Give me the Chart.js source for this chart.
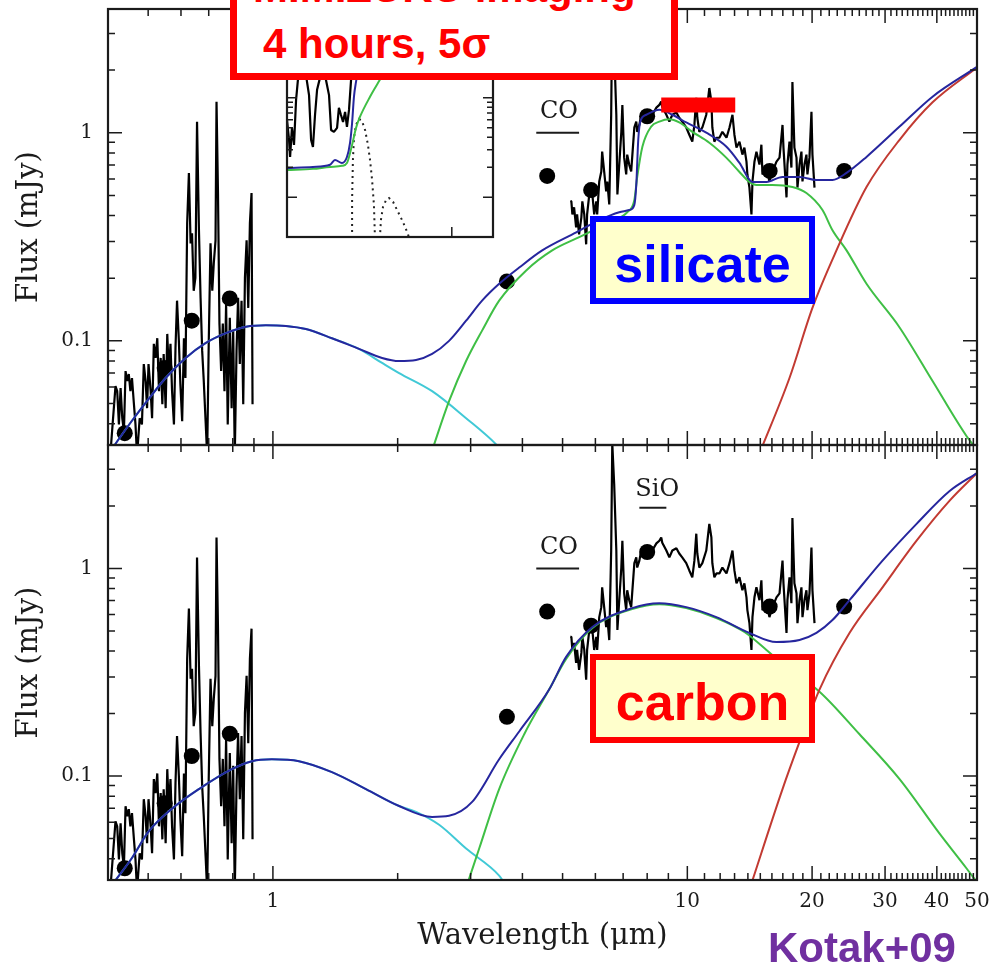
<!DOCTYPE html>
<html lang="en">
<head>
<meta charset="utf-8">
<title>SN 2004et SED fits</title>
<script src="https://cdn.jsdelivr.net/npm/chart.js@4.4.1/dist/chart.umd.min.js"></script>
<style>
  html, body { margin: 0; padding: 0; background: #fff; }
  #page { position: relative; width: 1000px; height: 966px; overflow: hidden; }
  #page canvas { position: absolute; }
  #cTop { left: 0; top: -18px; }
  #cBot { left: 0; top: 418px; }
  #cInset { left: 285px; top: -4px; }
  .box { position: absolute; box-sizing: border-box; }
  .note { position: absolute; font-family: "Liberation Sans", Arial, sans-serif; font-weight: bold; line-height: 1; white-space: pre; }
  #sensBox { left: 230px; top: -20px; width: 448px; height: 100px; border: 7px solid #ff0000; background: #fff; }
  #silBox { left: 590px; top: 216px; width: 225px; height: 88px; border: 6px solid #0000ff; background: #ffffcc; }
  #carBox { left: 590px; top: 654px; width: 225px; height: 89px; border: 6px solid #ff0000; background: #ffffcc; }
</style>
</head>
<body>
<div id="page">
  <canvas id="cTop" width="1000" height="490"></canvas>
  <canvas id="cBot" width="1000" height="548"></canvas>
  <canvas id="cInset" width="210" height="243"></canvas>
  <div class="box" id="sensBox"></div>
  <div class="note" style="left:253px; top:-33px; font-size:42px; color:#ff0000;">MIMIZUKU imaging</div>
  <div class="note" style="left:263px; top:23px; font-size:42px; color:#ff0000;">4 hours, 5σ</div>
  <div class="box" id="silBox"></div>
  <div class="note" style="left:590px; width:225px; text-align:center; top:238px; font-size:52px; color:#0000ff;">silicate</div>
  <div class="box" id="carBox"></div>
  <div class="note" style="left:590px; width:225px; text-align:center; top:676px; font-size:52px; color:#ff0000;">carbon</div>
  <div class="note" style="left:768px; top:927px; font-size:42px; color:#7030a0;">Kotak+09</div>
</div>
<script>
// wavelengths in micron, fluxes in mJy

// optical spectrum
const optWave = [0.405, 0.417, 0.421, 0.425, 0.429, 0.433, 0.437, 0.441, 0.445, 0.449, 0.453, 0.457, 0.462, 0.466, 0.470,
  0.477, 0.483, 0.488, 0.493, 0.497, 0.501, 0.507, 0.511, 0.516, 0.521, 0.526, 0.531, 0.536, 0.541, 0.545,
  0.551, 0.556, 0.561, 0.566, 0.571, 0.577, 0.582, 0.587, 0.593, 0.598, 0.604, 0.610, 0.615, 0.621, 0.627,
  0.633, 0.638, 0.644, 0.650, 0.656, 0.663, 0.669, 0.675, 0.681, 0.688, 0.694, 0.700, 0.707, 0.714, 0.720,
  0.727, 0.731, 0.737, 0.743, 0.750, 0.757, 0.764, 0.771, 0.778, 0.787, 0.795, 0.802, 0.809, 0.817, 0.824,
  0.832, 0.840, 0.848, 0.856, 0.864, 0.872, 0.880, 0.888, 0.893];
const optFlux = [0.028, 0.0606, 0.0573, 0.0397, 0.0593, 0.0425, 0.0367, 0.0716, 0.0641, 0.0693, 0.0573, 0.0663, 0.0496, 0.0397, 0.028,
  0.0425, 0.0397, 0.0774, 0.0641, 0.0475, 0.0774, 0.0573, 0.0425, 0.0968, 0.0828, 0.103, 0.0573, 0.0828, 0.0496, 0.0865,
  0.0475, 0.108, 0.0693, 0.0968, 0.0573, 0.0397, 0.0925, 0.156, 0.100, 0.0620, 0.0411, 0.103, 0.0663, 0.367, 0.641,
  0.294, 0.329, 0.174, 0.201, 1.13, 0.340, 0.161, 0.0895, 0.0641, 0.0411, 0.028, 0.0968, 0.294, 0.174, 0.236,
  0.304, 1.41, 0.513, 0.121, 0.0716, 0.121, 0.0573, 0.151, 0.0397, 0.129, 0.0475, 0.112, 0.028, 0.0895, 0.161,
  0.0774, 0.156, 0.0496, 0.201, 0.304, 0.144, 0.367, 0.513, 0.0496];

// mid-IR spectrum
const irWave = [5.22, 5.25, 5.28, 5.33, 5.39, 5.42, 5.48, 5.55, 5.58, 5.64, 5.70, 5.73, 5.80, 5.86, 5.90, 5.96, 6.03, 6.06,
  6.13, 6.20, 6.23, 6.30, 6.37, 6.41, 6.48, 6.55, 6.59, 6.66, 6.74, 6.78, 6.85, 6.93, 6.97, 7.04, 7.12, 7.16,
  7.24, 7.32, 7.36, 7.45, 7.53, 7.57, 7.66, 7.74, 7.79, 7.96, 8.09, 8.23, 8.42, 8.56, 8.65, 8.70, 8.90, 9.05,
  9.20, 9.41, 9.56, 9.72, 9.94, 10.11, 10.28, 10.40, 10.51, 10.57, 10.69, 10.87, 11.11, 11.30, 11.43, 11.49,
  11.62, 11.75, 11.95, 12.15, 12.43, 12.64, 12.85, 12.99, 13.14, 13.36, 13.58, 13.73, 13.89, 13.96, 14.12,
  14.28, 14.36, 14.52, 14.68, 14.93, 15.09, 15.18, 15.52, 15.78, 16.05, 16.41, 16.69, 16.97, 17.06, 17.35,
  17.44, 17.64, 17.83, 17.93, 18.13, 18.34, 18.44, 18.65, 18.85, 18.96, 19.17, 19.38, 19.49, 19.71, 19.93,
  20.04, 20.27];
const irFlux = [0.47, 0.468, 0.405, 0.438, 0.351, 0.405, 0.325, 0.392, 0.468, 0.405, 0.291, 0.405, 0.505, 0.564, 0.505, 0.405, 0.468, 0.405,
  0.583, 0.651, 0.811, 0.651, 0.522, 0.583, 0.452, 1.22, 4.0, 2.55, 1.22, 0.505, 0.703, 1.01, 1.36, 0.759, 0.630, 0.785,
  0.703, 0.651, 0.759, 1.06, 1.13, 1.01, 1.09, 1.22, 1.26, 1.22, 1.13, 1.22, 1.32, 1.36, 1.41, 1.33, 1.22, 1.13,
  1.22, 1.25, 1.18, 1.13, 1.06, 0.978, 0.906, 1.09, 1.47, 1.18, 1.01, 1.06, 1.22, 1.64, 1.41, 1.06,
  0.906, 0.946, 0.946, 1.01, 0.946, 1.06, 1.22, 0.978, 0.848, 0.906, 0.785, 0.848, 0.726, 0.630, 0.545,
  0.405, 0.583, 0.726, 0.811, 0.703, 0.876, 0.630, 0.680, 0.583, 0.651, 0.726, 0.759, 1.09, 0.848, 0.489,
  0.703, 0.906, 0.680, 1.75, 0.848, 0.759, 0.545, 0.703, 0.811, 0.583, 0.703, 0.785, 0.630, 0.759, 1.26,
  0.785, 0.545];

// photometry
const photWave = [0.439, 0.548, 0.637, 0.787, 3.67, 4.59, 5.86, 8.0, 15.8, 23.9];
const photFlux = [0.036, 0.074, 0.125, 0.160, 0.193, 0.62, 0.53, 1.20, 0.655, 0.655];

// silicate dust model
const silTotalWave = [0.40, 0.456, 0.501, 0.551, 0.616, 0.689, 0.770, 0.861, 0.962, 1.075, 1.201, 1.388, 1.613, 1.834,
  2.016, 2.215, 2.422, 2.661, 2.925, 3.197, 3.515, 3.929, 4.465, 5.394, 6.130, 6.850, 7.241, 7.447, 7.530,
  7.613, 7.70, 7.96, 8.56, 9.20, 9.94, 11.11, 12.43, 13.36, 14.36, 15.52, 16.97, 18.65, 20.49, 22.40, 24.22,
  27.06, 32.52, 39.06, 50];
const silTotalFlux = [0.0285, 0.0411, 0.0525, 0.0663, 0.0828, 0.0978, 0.109, 0.117, 0.119, 0.118, 0.114, 0.103, 0.0915, 0.0828,
  0.0800, 0.0809, 0.0865, 0.100, 0.125, 0.156, 0.188, 0.225, 0.272, 0.332, 0.380, 0.415, 0.425, 0.449, 0.561,
  0.925, 1.13, 1.22, 1.29, 1.22, 1.12, 1.00, 0.856, 0.716, 0.580, 0.580, 0.613, 0.613, 0.593, 0.593, 0.641,
  0.765, 1.07, 1.49, 2.07];
const silStarWave = [0.40, 0.456, 0.501, 0.551, 0.616, 0.689, 0.770, 0.861, 0.962, 1.075, 1.201, 1.388, 1.613, 1.834,
  2.016, 2.422, 2.925, 3.457, 3.61];
const silStarFlux = [0.0285, 0.0411, 0.0525, 0.0663, 0.0828, 0.0978, 0.109, 0.117, 0.119, 0.118, 0.114, 0.103, 0.0915, 0.0783,
  0.070, 0.0573, 0.0425, 0.0318, 0.0288];
const silWarmWave = [2.408, 2.661, 2.925, 3.197, 3.515, 4.085, 4.720, 5.484, 6.48, 7.16, 7.45, 7.57, 7.79, 8.18, 8.56,
  9.05, 9.56, 10.28, 11.30, 12.43, 13.36, 14.12, 14.68, 16.05, 17.93, 19.38, 21.19, 22.40, 24.22, 27.06,
  32.52, 39.06, 47.2, 50];
const silWarmFlux = [0.0288, 0.0513, 0.0800, 0.112, 0.156, 0.218, 0.272, 0.315, 0.372, 0.415, 0.475, 0.613, 0.856, 1.07, 1.13,
  1.16, 1.12, 1.01, 0.895, 0.757, 0.648, 0.580, 0.561, 0.561, 0.548, 0.513, 0.425, 0.340, 0.272, 0.188,
  0.116, 0.0641, 0.0348, 0.0300];
const silColdWave = [14.93, 17.64, 20.04, 22.9, 27.06, 32.52, 39.06, 50];
const silColdFlux = [0.0288, 0.0663, 0.144, 0.272, 0.548, 0.925, 1.40, 2.06];

// carbon dust model
const carTotalWave = [0.406, 0.456, 0.501, 0.570, 0.663, 0.796, 0.890, 0.994, 1.156, 1.388, 1.677, 2.016, 2.422, 2.661,
  3.025, 3.515, 3.929, 4.64, 5.10, 5.90, 7.36, 8.56, 9.94, 11.75, 14.12, 16.41, 18.65, 20.49, 22.40, 24.62,
  29.58, 35.74, 42.95, 50];
const carTotalFlux = [0.0294, 0.0401, 0.0540, 0.0695, 0.0866, 0.108, 0.118, 0.1205, 0.118, 0.1045, 0.0866, 0.0718, 0.0636, 0.0644,
  0.0751, 0.1205, 0.164, 0.261, 0.375, 0.522, 0.644, 0.680, 0.651, 0.583, 0.489, 0.442, 0.452, 0.489, 0.564, 0.703,
  1.09, 1.64, 2.36, 2.88];
const carStarWave = [0.406, 0.456, 0.501, 0.570, 0.663, 0.796, 0.890, 0.994, 1.156, 1.388, 1.677, 2.016, 2.215, 2.518,
  2.925, 3.515, 3.61];
const carStarFlux = [0.0294, 0.0401, 0.0540, 0.0695, 0.0866, 0.108, 0.118, 0.1205, 0.118, 0.1045, 0.0866, 0.0718, 0.0673, 0.0583,
  0.0448, 0.0332, 0.0308];
const carWarmWave = [2.942, 3.146, 3.515, 4.04, 4.64, 5.10, 5.90, 7.36, 8.56, 9.94, 11.75, 13.73, 15.52, 17.64, 20.84,
  26.03, 32.52, 40.62, 47.2, 50];
const carWarmFlux = [0.030, 0.0448, 0.0866, 0.159, 0.261, 0.367, 0.517, 0.637, 0.673, 0.644, 0.577, 0.494, 0.405, 0.325, 0.255,
  0.159, 0.0967, 0.0528, 0.0359, 0.0308];
const carColdWave = [14.2, 16.97, 18.65, 20.84, 24.62, 29.58, 35.74, 42.95, 50];
const carColdFlux = [0.0294, 0.0866, 0.146, 0.261, 0.489, 0.811, 1.36, 2.12, 2.88];

// N-band sensitivity bar
const nBandWave = [8.65, 13.05];
const nBandFlux = [1.36, 1.36];

// molecular band marks
const bandNames = ['CO', 'SiO'];
const bandFrom = [4.32, 7.66];
const bandTo = [5.48, 8.90];
const bandLevel = [1.0, 1.96];
const bandTextAt = [4.9, 8.46];
const bandTextLevel = [1.18, 2.23];

// inset: CO fundamental region
const insetWave = [4.000, 4.010, 4.015, 4.024, 4.034, 4.044, 4.053, 4.063, 4.078, 4.092, 4.107, 4.117, 4.126, 4.136, 4.146,
  4.160, 4.175, 4.189, 4.204, 4.214, 4.228, 4.243, 4.252, 4.262, 4.272, 4.282, 4.291, 4.301, 4.311, 4.320];
const insetFlux = [5.98, 3.77, 2.54, 4.97, 3.36, 9.48, 15.1, 19.0, 23.9, 16.9, 10.6, 3.77, 3.20, 6.70, 12.0,
  15.8, 19.0, 15.1, 10.6, 4.74, 4.53, 4.97, 7.89, 6.70, 5.71, 7.19, 5.09, 7.53, 15.1, 23.9];
const insetTotalWave = [4.000, 4.126, 4.209, 4.233, 4.267, 4.291, 4.306, 4.316, 4.325, 4.335, 4.345, 4.359];
const insetTotalFlux = [1.97, 2.02, 2.12, 2.37, 2.21, 2.54, 3.52, 5.57, 10.2, 14.4, 19.0, 26.8];
const insetDustWave = [4.000, 4.126, 4.209, 4.267, 4.291, 4.316, 4.335, 4.354, 4.403, 4.451, 4.500, 4.549];
const insetDustFlux = [1.88, 1.93, 2.02, 2.07, 2.21, 3.36, 4.97, 6.40, 10.2, 15.1, 22.3, 31.5];
const insetCoAWave = [4.316, 4.316, 4.320, 4.325, 4.335, 4.350, 4.364, 4.379, 4.393, 4.403, 4.413, 4.422, 4.427];
const insetCoAFlux = [0.39, 0.94, 2.37, 3.94, 5.33, 6.11, 5.84, 4.74, 3.36, 2.37, 1.50, 0.839, 0.39];
const insetCoBWave = [4.451, 4.456, 4.466, 4.481, 4.495, 4.515, 4.539, 4.563, 4.587, 4.592];
const insetCoBFlux = [0.39, 0.593, 0.801, 0.94, 0.986, 0.899, 0.714, 0.566, 0.43, 0.39];

// axis labels and tick marks
const waveLabels = [1, 10, 20, 30, 40, 50];
const fluxLabels = [0.1, 1];
const waveMinor = [0.5, 0.6, 0.7, 0.8, 0.9, 2, 3, 4, 5, 6, 7, 8, 9];
for (let v = 11; v < 50; v++) if (v % 10) waveMinor.push(v);
const fluxMinor = [0.04, 0.05, 0.06, 0.07, 0.08, 0.09, 0.2, 0.3, 0.4, 0.5, 0.6, 0.7, 0.8, 0.9, 2, 3];
const insetWaveTicks = [4.8];
const insetFluxMajor = [1, 10];
const insetFluxMinor = [2, 3, 4, 5, 6, 7, 8, 9, 20, 30, 40, 50, 60, 70, 80, 90];

const SERIF = '"DejaVu Serif", "Liberation Serif", serif';
const BLUE = '#26269e';
const GREEN = '#3fbf45';
const CYAN = '#41c9d6';
const RED = '#c23a32';
const INK = '#1b1b1b';

// frame with inward ticks on all four sides, plus band marks
const frameTicks = {
  id: 'frameTicks',
  beforeDraw(chart, args, o) {
    if (!o.fill) return;
    const { ctx, chartArea: a } = chart;
    ctx.save();
    ctx.fillStyle = o.fill;
    ctx.fillRect(a.left, a.top, a.right - a.left, a.bottom - a.top);
    ctx.restore();
  },
  afterDraw(chart, args, o) {
    const { ctx, chartArea: a, scales: { x, y } } = chart;
    ctx.save();
    ctx.strokeStyle = INK;
    ctx.lineWidth = 1.5;
    ctx.beginPath();
    const xs = (o.xMajor || []).map(v => [v, o.major]).concat((o.xMinor || []).map(v => [v, o.minor]));
    for (const [v, len] of xs) {
      const px = x.getPixelForValue(v);
      if (px <= a.left + 1 || px >= a.right - 1) continue;
      ctx.moveTo(px, a.bottom); ctx.lineTo(px, a.bottom - len);
      ctx.moveTo(px, a.top); ctx.lineTo(px, a.top + len);
    }
    const ys = (o.yMajor || []).map(v => [v, o.major]).concat((o.yMinor || []).map(v => [v, o.minor]));
    for (const [v, len] of ys) {
      const py = y.getPixelForValue(v);
      if (py <= a.top + 1 || py >= a.bottom - 1) continue;
      ctx.moveTo(a.left, py); ctx.lineTo(a.left + len, py);
      ctx.moveTo(a.right, py); ctx.lineTo(a.right - len, py);
    }
    ctx.stroke();
    ctx.lineWidth = 2.2;
    ctx.strokeRect(a.left, a.top, a.right - a.left, a.bottom - a.top);

    if (o.bands) {
      ctx.fillStyle = INK;
      ctx.font = '24px ' + SERIF;
      ctx.textAlign = 'center';
      ctx.lineWidth = 2;
      for (const i of o.bands) {
        const yl = y.getPixelForValue(bandLevel[i]);
        ctx.beginPath();
        ctx.moveTo(x.getPixelForValue(bandFrom[i]), yl);
        ctx.lineTo(x.getPixelForValue(bandTo[i]), yl);
        ctx.stroke();
        ctx.fillText(bandNames[i], x.getPixelForValue(bandTextAt[i]), y.getPixelForValue(bandTextLevel[i]));
      }
    }
    ctx.restore();
  }
};
Chart.register(frameTicks);

function xy(xs, ys) {
  return xs.map((x, i) => ({ x, y: ys[i] }));
}

function modelLine(xs, ys, color, order) {
  return { data: xy(xs, ys), showLine: true, borderColor: color, borderWidth: 2, pointRadius: 0,
    cubicInterpolationMode: 'monotone', clip: 0, order };
}

function spectrumLine(xs, ys, order) {
  return { data: xy(xs, ys), showLine: true, borderColor: '#000', borderWidth: 2.2, borderJoinStyle: 'bevel',
    pointRadius: 0, tension: 0, clip: 0, order };
}

function dottedLine(xs, ys) {
  return { data: xy(xs, ys), showLine: true, borderColor: '#222', borderWidth: 2, borderDash: [2, 4],
    pointRadius: 0, tension: 0, clip: 0, order: 5 };
}

function panelDatasets(m) {
  return [
    spectrumLine(optWave, optFlux, 10),
    spectrumLine(irWave, irFlux, 10),
    { data: xy(photWave, photFlux), showLine: false, pointRadius: 8, pointBackgroundColor: '#000',
      pointBorderWidth: 0, clip: 0, order: 8 },
    modelLine(m.starX, m.starY, CYAN, 6),
    modelLine(m.warmX, m.warmY, GREEN, 5),
    modelLine(m.coldX, m.coldY, RED, 4),
    modelLine(m.totalX, m.totalY, BLUE, 3),
  ];
}

// the y labels add 27px above and below the plot; the canvases are offset to absorb it
function fluxAxis() {
  return {
    type: 'logarithmic', min: 0.0316, max: 3.93,
    afterFit(s) { s.width = 108; },
    afterBuildTicks(s) { s.ticks = fluxLabels.map(v => ({ value: v })); },
    grid: { display: false, drawTicks: false },
    border: { display: false },
    ticks: { padding: 15, color: INK, font: { family: SERIF, size: 20 }, callback: v => String(v) },
    title: { display: true, text: 'Flux (mJy)', color: INK, font: { family: SERIF, size: 29 },
      padding: { top: 12, bottom: 0 } }
  };
}

const tickMarks = { xMajor: waveLabels, xMinor: waveMinor, yMajor: fluxLabels, yMinor: fluxMinor, major: 14, minor: 7 };
const base = { responsive: false, animation: false, devicePixelRatio: 1, events: [] };

const silDatasets = panelDatasets({
  starX: silStarWave, starY: silStarFlux, warmX: silWarmWave, warmY: silWarmFlux,
  coldX: silColdWave, coldY: silColdFlux, totalX: silTotalWave, totalY: silTotalFlux
});
silDatasets.push({ data: xy(nBandWave, nBandFlux), showLine: true, borderColor: '#ff0000', borderWidth: 15,
  borderCapStyle: 'butt', pointRadius: 0, clip: 0, order: -1 });

new Chart(document.getElementById('cTop'), {
  type: 'scatter',
  data: { datasets: silDatasets },
  options: {
    ...base,
    layout: { padding: { left: 0, right: 23, top: 0, bottom: 0 } },
    scales: {
      x: { type: 'logarithmic', min: 0.4, max: 50, display: false },
      y: fluxAxis()
    },
    plugins: { legend: { display: false }, tooltip: { enabled: false },
      frameTicks: { ...tickMarks, bands: [0] } }
  }
});

new Chart(document.getElementById('cBot'), {
  type: 'scatter',
  data: { datasets: panelDatasets({
    starX: carStarWave, starY: carStarFlux, warmX: carWarmWave, warmY: carWarmFlux,
    coldX: carColdWave, coldY: carColdFlux, totalX: carTotalWave, totalY: carTotalFlux
  }) },
  options: {
    ...base,
    layout: { padding: { left: 0, right: 23, top: 0, bottom: 0 } },
    scales: {
      x: {
        type: 'logarithmic', min: 0.4, max: 50,
        afterFit(s) { s.height = 86; },
        afterBuildTicks(s) { s.ticks = waveLabels.map(v => ({ value: v })); },
        grid: { display: false, drawTicks: false },
        border: { display: false },
        ticks: { padding: 10, autoSkip: false, maxRotation: 0, color: INK, font: { family: SERIF, size: 20 },
          callback: v => String(v) },
        title: { display: true, text: 'Wavelength (μm)', color: INK, font: { family: SERIF, size: 29 },
          padding: { top: 0, bottom: 12 } }
      },
      y: fluxAxis()
    },
    plugins: { legend: { display: false }, tooltip: { enabled: false },
      frameTicks: { ...tickMarks, bands: [0, 1] } }
  }
});

new Chart(document.getElementById('cInset'), {
  type: 'scatter',
  data: { datasets: [
    spectrumLine(insetWave, insetFlux, 10),
    dottedLine(insetCoAWave, insetCoAFlux),
    dottedLine(insetCoBWave, insetCoBFlux),
    modelLine(insetDustWave, insetDustFlux, GREEN, 4),
    modelLine(insetTotalWave, insetTotalFlux, BLUE, 3),
  ] },
  options: {
    ...base,
    layout: { padding: 2 },
    scales: {
      x: { type: 'linear', min: 4, max: 5, display: false },
      y: { type: 'logarithmic', min: 0.4, max: 100, display: false }
    },
    plugins: { legend: { display: false }, tooltip: { enabled: false },
      frameTicks: { fill: '#fff', xMajor: insetWaveTicks, yMajor: insetFluxMajor, yMinor: insetFluxMinor,
        major: 10, minor: 6 } }
  }
});
</script>
</body>
</html>
